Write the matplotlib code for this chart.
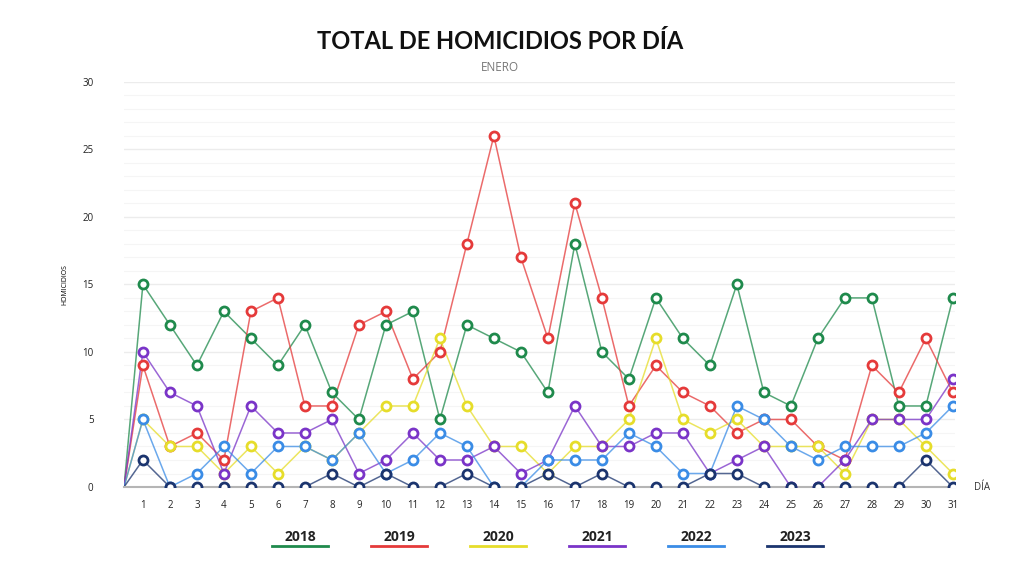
import matplotlib.pyplot as plt
from matplotlib.lines import Line2D

plt.rcParams["font.family"] = ["Open Sans", "DejaVu Sans"]

dias = list(range(1, 32))
years = ["2018", "2019", "2020", "2021", "2022", "2023"]
colors = ["#1f8a4c", "#e53a3a", "#e6dd2a", "#7a34c8", "#3a8ce6", "#1b346e"]

h2018 = [15, 12, 9, 13, 11, 9, 12, 7, 5, 12, 13, 5, 12, 11, 10, 7, 18, 10, 8, 14, 11, 9, 15, 7, 6, 11, 14, 14, 6, 6, 14]
h2019 = [9, 3, 4, 2, 13, 14, 6, 6, 12, 13, 8, 10, 18, 26, 17, 11, 21, 14, 6, 9, 7, 6, 4, 5, 5, 3, 2, 9, 7, 11, 7]
h2020 = [5, 3, 3, 1, 3, 1, 3, 2, 4, 6, 6, 11, 6, 3, 3, 1, 3, 3, 5, 11, 5, 4, 5, 3, 3, 3, 1, 5, 5, 3, 1]
h2021 = [10, 7, 6, 1, 6, 4, 4, 5, 1, 2, 4, 2, 2, 3, 1, 2, 6, 3, 3, 4, 4, 1, 2, 3, 0, 0, 2, 5, 5, 5, 8]
h2022 = [5, 0, 1, 3, 1, 3, 3, 2, 4, 1, 2, 4, 3, 0, 0, 2, 2, 2, 4, 3, 1, 1, 6, 5, 3, 2, 3, 3, 3, 4, 6]
h2023 = [2, 0, 0, 0, 0, 0, 0, 1, 0, 1, 0, 0, 1, 0, 0, 1, 0, 1, 0, 0, 0, 1, 1, 0, 0, 0, 0, 0, 0, 2, 0]
series = [h2018, h2019, h2020, h2021, h2022, h2023]

fig = plt.figure(figsize=(10.24, 5.76), dpi=100)
ax = fig.add_axes([124 / 1024, 0.1545, 831 / 1024, 0.7035])
ax.set_xlim(0.3, 31.08)
ax.set_ylim(0, 30)
x0 = ax.get_xlim()[0]  # every series starts from zero at the left edge

for vals, col, yr in zip(series, colors, years):
    ax.plot([x0] + dias, [0] + vals, color=col, lw=1.1, alpha=0.75, zorder=2)
    ax.plot(dias, vals, ls="none", marker="o", ms=6.5, mfc="white",
            mec=col, mew=2, zorder=3, label=yr)

ax.set_xticks(dias)
ax.set_yticks(range(0, 31, 5))
ax.set_yticks(range(0, 31), minor=True)
ax.grid(axis="y", which="major", color="#ececec", lw=1)
ax.grid(axis="y", which="minor", color="#f5f5f5", lw=0.8)
ax.set_axisbelow(True)
for s in ["top", "right", "left"]:
    ax.spines[s].set_visible(False)
ax.spines["bottom"].set_color("#b5b5b5")
ax.spines["bottom"].set_linewidth(1.5)
ax.tick_params(axis="x", length=0, labelsize=7, pad=9, colors="#222222")
ax.tick_params(axis="y", which="both", length=0, labelsize=7, pad=22, colors="#222222")
ax.set_ylabel("HOMICIDIOS", fontsize=5, labelpad=10)
ax.text(1.032, 0, "DÍA", transform=ax.transAxes, fontsize=7, va="center",
        ha="center", color="#333333")

fig.text(0.488, 0.928, "TOTAL DE HOMICIDIOS POR DÍA", ha="center", va="center",
         fontsize=17, fontweight="bold", family=["Lato", "DejaVu Sans"], color="#111111")
fig.text(0.488, 0.882, "ENERO", ha="center", va="center", fontsize=8.5, color="#777777")

# legend: year text with a coloured underline
for i, (yr, col) in enumerate(zip(years, colors)):
    cx = (300 + i * 99) / 1024
    fig.text(cx, 1 - 537 / 576, yr, ha="center", va="center", fontsize=10,
             fontweight="bold", color="#222222")
    fig.add_artist(Line2D([cx - 28 / 1024, cx + 28 / 1024], [1 - 546 / 576] * 2,
                          color=col, lw=2, transform=fig.transFigure))

plt.savefig("out.png", dpi=100)
